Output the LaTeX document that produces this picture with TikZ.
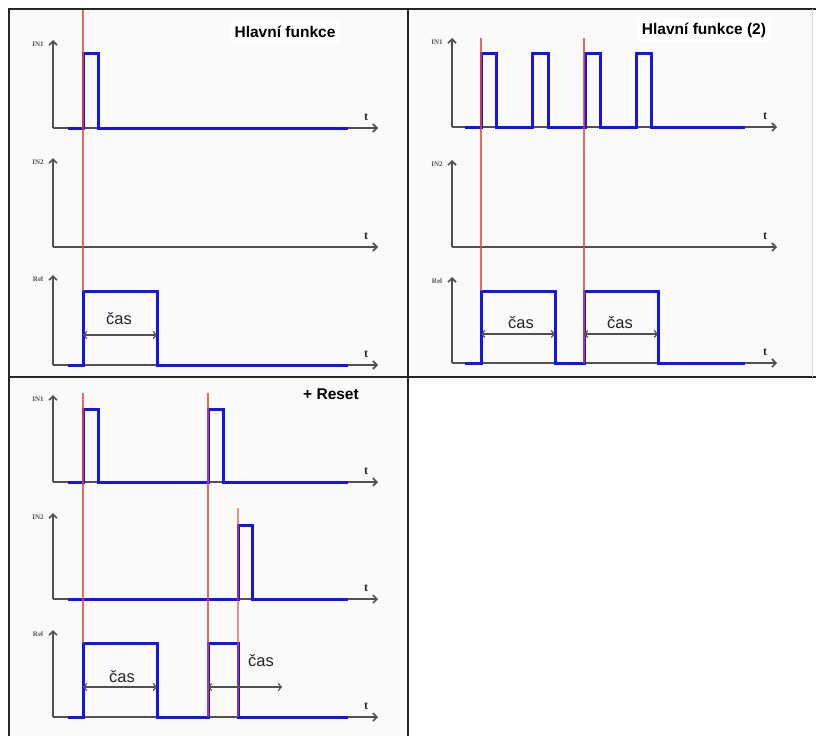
\documentclass[tikz,border=0pt]{standalone}
\usepackage{fontspec}
\setmainfont{Liberation Sans}
\newfontfamily\tdserif{Liberation Serif}
\usetikzlibrary{arrows.meta}
\definecolor{sigblue}{RGB}{20,20,235}
\definecolor{mkred}{RGB}{225,70,60}
\definecolor{axgray}{RGB}{80,80,80}
\definecolor{panelbg}{RGB}{250,250,248}
\tikzset{
  axisline/.style={draw=axgray,line width=1.6pt,-{Straight Barb[length=4pt,width=8pt]}},
  sig/.style={draw=sigblue,line width=3pt,line join=miter},
  redmark/.style={draw=mkred,line width=1.3pt,opacity=0.8},
  span/.style={draw=axgray,line width=1.2pt,{Straight Barb[length=3pt,width=7pt]}-{Straight Barb[length=3pt,width=7pt]}},
  axlbl/.style={font=\tdserif\bfseries\fontsize{7}{8}\selectfont,text=axgray,inner sep=0pt},
  tlbl/.style={font=\tdserif\bfseries\fontsize{12}{13}\selectfont,text=black!85,inner sep=0pt},
  title/.style={font=\bfseries\fontsize{15.5}{18}\selectfont,fill=white,inner sep=5pt},
  caslbl/.style={font=\fontsize{16.5}{18}\selectfont,text=black!85,inner sep=0pt},
  border/.style={draw=black!85,line width=2.4pt},
}
\newcommand\tdaxis[6]{% name, x0, ybase, ytop, xend, label
  \coordinate (#1o) at (#2,#3);
  \coordinate (#1y) at (#2,#4);
  \coordinate (#1x) at (#5,#3);
  \draw[axisline] (#1o) -- (#1y);
  \draw[axisline] (#1o) -- (#1x);
  \node[axlbl] (#1lab) at (#2-15,#4+4) {#6};
  \node[tlbl] (#1t) at (#5-12,#3-11) {t};
}
\begin{document}
\begin{tikzpicture}[x=1pt,y=-1pt]
\useasboundingbox (0,0) rectangle (816,736);
\fill[white] (0,0) rectangle (816,736);
\fill[panelbg] (9,9) rectangle (812,736);
\fill[white] (408,377) rectangle (812,736);

% ---------- top-left panel ----------
\node[title] (t1) at (285,32) {Hlavní funkce};
\tdaxis{a}{53}{128}{40}{378}{IN1}
\tdaxis{b}{53}{247}{158}{378}{IN2}
\tdaxis{c}{53}{365}{275}{378}{Rel}
\draw[sig] (68,128) -- (83,128) -- (83,53) -- (98,53) -- (98,128) -- (348,128);
\draw[sig] (68,365) -- (83,365) -- (83,291) -- (157,291) -- (157,365) -- (348,365);
\draw[redmark] (83,10) -- (83,291);
\coordinate (s1a) at (83,335); \coordinate (s1b) at (157,335);
\draw[span] (s1a) -- (s1b);
\node[caslbl] (c1) at (119,319) {čas};

% ---------- top-right panel ----------
\node[title] (t2) at (704,30) {Hlavní funkce (2)};
\tdaxis{d}{452}{127}{38}{777}{IN1}
\tdaxis{e}{452}{247}{160}{777}{IN2}
\tdaxis{f}{452}{363}{277}{777}{Rel}
\draw[sig] (465,127) -- (481,127) -- (481,53) -- (496,53) -- (496,127)
  -- (532,127) -- (532,53) -- (548,53) -- (548,127)
  -- (585,127) -- (585,53) -- (600,53) -- (600,127)
  -- (636,127) -- (636,53) -- (651,53) -- (651,127) -- (745,127);
\draw[sig] (465,363) -- (481,363) -- (481,291) -- (555,291) -- (555,363)
  -- (584,363) -- (584,291) -- (658,291) -- (658,363) -- (745,363);
\draw[redmark] (481,38) -- (481,291);
\draw[redmark] (584,38) -- (584,363);
\coordinate (s2a) at (481,334); \coordinate (s2b) at (555,334);
\coordinate (s3a) at (584,334); \coordinate (s3b) at (658,334);
\draw[span] (s2a) -- (s2b);
\draw[span] (s3a) -- (s3b);
\node[caslbl] (c2) at (521,323) {čas};
\node[caslbl] (c3) at (620,323) {čas};

% ---------- bottom-left panel ----------
\node[title,fill=none] (t3) at (331,394) {+ Reset};
\tdaxis{g}{53}{482}{395}{378}{IN1}
\tdaxis{h}{53}{599}{513}{378}{IN2}
\tdaxis{k}{53}{717}{630}{378}{Rel}
\draw[sig] (68,482) -- (83,482) -- (83,409) -- (98,409) -- (98,482)
  -- (208,482) -- (208,409) -- (223,409) -- (223,482) -- (348,482);
\draw[sig] (68,599) -- (238,599) -- (238,525) -- (252,525) -- (252,599) -- (348,599);
\draw[sig] (68,717) -- (83,717) -- (83,643) -- (157,643) -- (157,717)
  -- (208,717) -- (208,643) -- (238,643) -- (238,717) -- (348,717);
\draw[redmark] (83,393) -- (83,643);
\draw[redmark] (208,393) -- (208,717);
\draw[redmark,opacity=0.6] (238,508) -- (238,717);
\coordinate (s4a) at (83,687); \coordinate (s4b) at (157,687);
\coordinate (s5a) at (208,687); \coordinate (s5b) at (282,687);
\draw[span] (s4a) -- (s4b);
\draw[span] (s5a) -- (s5b);
\node[caslbl] (c4) at (122,677) {čas};
\node[caslbl] (c5) at (261,661) {čas};

% ---------- frame ----------
\draw[border] (9,736) -- (9,9) -- (816,9);
\draw[border] (408,9) -- (408,736);
\draw[border] (9,377) -- (816,377);
\draw[black!15,line width=1pt] (812,9) -- (812,377);
\end{tikzpicture}
\end{document}
